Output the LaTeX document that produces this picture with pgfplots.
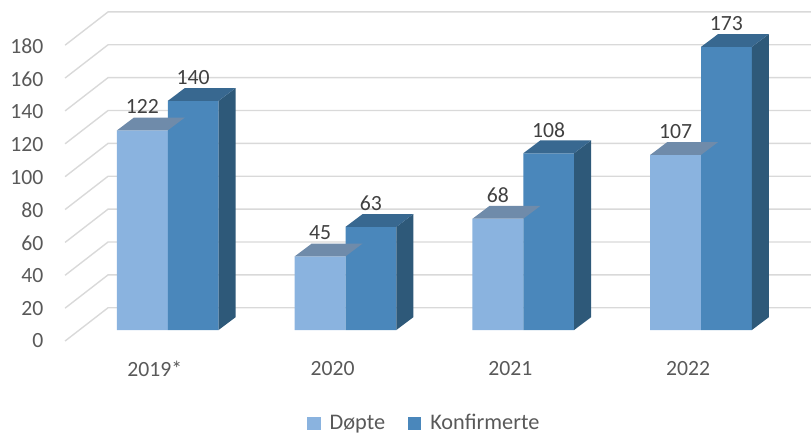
\documentclass[border=0pt]{standalone}
\usepackage{fontspec}
\setmainfont{Carlito}
\usepackage{pgfplots}
\usepackage{pgfplotstable}
\pgfplotsset{compat=1.18}

\definecolor{dfront}{HTML}{8AB3DF}
\definecolor{dtop}{HTML}{6F8BAA}
\definecolor{kfront}{HTML}{4A87BB}
\definecolor{ktop}{HTML}{386890}
\definecolor{kside}{HTML}{2E5979}
\definecolor{gridc}{HTML}{D9D9D9}
\definecolor{labc}{HTML}{595959}
\definecolor{valc}{HTML}{404040}

\pgfplotstableread{
x d k
0 122 140
1 45 63
2 68 108
3 107 173
}\data

% one grid line: front edge, back wall, right edge (offset by the value)
\pgfplotstableread{
gx gy
-0.5776 -6.72
-0.3357 13.62
3.70 13.62
}\gridpath

% bar geometry in pt
\def\bw{50.8}
\def\dx{17}
\def\dy{12.8}
\def\yu{1.637}

% top face of the left bar (point = top right front corner)
\pgfdeclareplotmark{dtopface}{%
  \pgfsetfillcolor{dtop}%
  \pgfpathmoveto{\pgfpoint{-\bw pt}{0pt}}%
  \pgfpathlineto{\pgfpoint{0pt}{0pt}}%
  \pgfpathlineto{\pgfpoint{\dx pt}{\dy pt}}%
  \pgfpathlineto{\pgfpoint{\dx pt-\bw pt}{\dy pt}}%
  \pgfpathclose\pgfusepath{fill}%
}
% side and top of the right bar (point = top left front corner)
\pgfdeclareplotmark{kfaces}{%
  \pgfmathsetmacro\hh{\hval*\yu}%
  \pgfsetfillcolor{kside}%
  \pgfpathmoveto{\pgfpoint{\bw pt}{0pt}}%
  \pgfpathlineto{\pgfpoint{\bw pt+\dx pt}{\dy pt}}%
  \pgfpathlineto{\pgfpoint{\bw pt+\dx pt}{\dy pt-\hh pt}}%
  \pgfpathlineto{\pgfpoint{\bw pt}{-\hh pt}}%
  \pgfpathclose\pgfusepath{fill}%
  \pgfsetfillcolor{ktop}%
  \pgfpathmoveto{\pgfpoint{0pt}{0pt}}%
  \pgfpathlineto{\pgfpoint{\bw pt}{0pt}}%
  \pgfpathlineto{\pgfpoint{\bw pt+\dx pt}{\dy pt}}%
  \pgfpathlineto{\pgfpoint{\dx pt}{\dy pt}}%
  \pgfpathclose\pgfusepath{fill}%
}

\newcommand\tickf{\fontsize{21.7}{26}\selectfont}
\newcommand\legf{\fontsize{22.3}{26}\selectfont}

\pgfplotsset{
  sqlegend/.style={legend image code/.code={\fill[##1] (0pt,-7.5pt) rectangle (13.4pt,5.9pt);}},
  faces/.style={forget plot, scatter, only marks,
    scatter/@pre marker code/.code={}, scatter/@post marker code/.code={}},
  vals/.style={nodes near coords,
    nodes near coords style={font=\tickf, text=valc, anchor=center, inner sep=0pt,
      yshift=23.6pt, xshift=#1}},
}

\begin{document}
\begin{tikzpicture}
\begin{axis}[
  x=177.8pt, y=1.637pt,
  xmin=-0.9432, xmax=3.6181, ymin=-63.53, ymax=201.59,
  enlargelimits=false,
  axis line style={draw=none},
  major tick length=0pt,
  xtick={0,1,2,3}, xticklabels={2019*,2020,2021,2022},
  ytick={0,20,...,180},
  tick label style={font=\tickf, text=labc, inner sep=0pt},
  xticklabel style={anchor=center, xshift=-13pt, yshift=65pt},
  yticklabel style={anchor=east, xshift=43.5pt, yshift=-11pt},
  /pgf/number format/assume math mode=true,
  legend columns=2,
  legend style={draw=none, fill=none, at={(0.522,0.026)}, anchor=center,
    font=\legf, text=labc, nodes={inner sep=0pt},
    /tikz/every odd column/.append style={column sep=9pt},
    /tikz/every even column/.append style={column sep=22.7pt}},
]
\pgfplotsinvokeforeach{0,20,...,180}{
  \addplot[forget plot, draw=gridc, line width=1.4pt]
    table[x=gx, y expr=\thisrow{gy}+1.0043*#1] {\gridpath};
}

\addplot[ybar, bar width=50.8pt, bar shift=-25.4pt, fill=dfront, draw=none, sqlegend,
  vals=-25.4pt] table[x=x, y=d] {\data};
\addplot[faces, mark=dtopface] table[x=x, y=d] {\data};

\addplot[ybar, bar width=50.8pt, bar shift=25.4pt, fill=kfront, draw=none, sqlegend,
  vals=25.4pt] table[x=x, y=k] {\data};
\addplot[faces, mark=kfaces, visualization depends on={\thisrow{k} \as \hval}]
  table[x=x, y=k] {\data};

\legend{Døpte, Konfirmerte}
\end{axis}
\end{tikzpicture}
\end{document}
